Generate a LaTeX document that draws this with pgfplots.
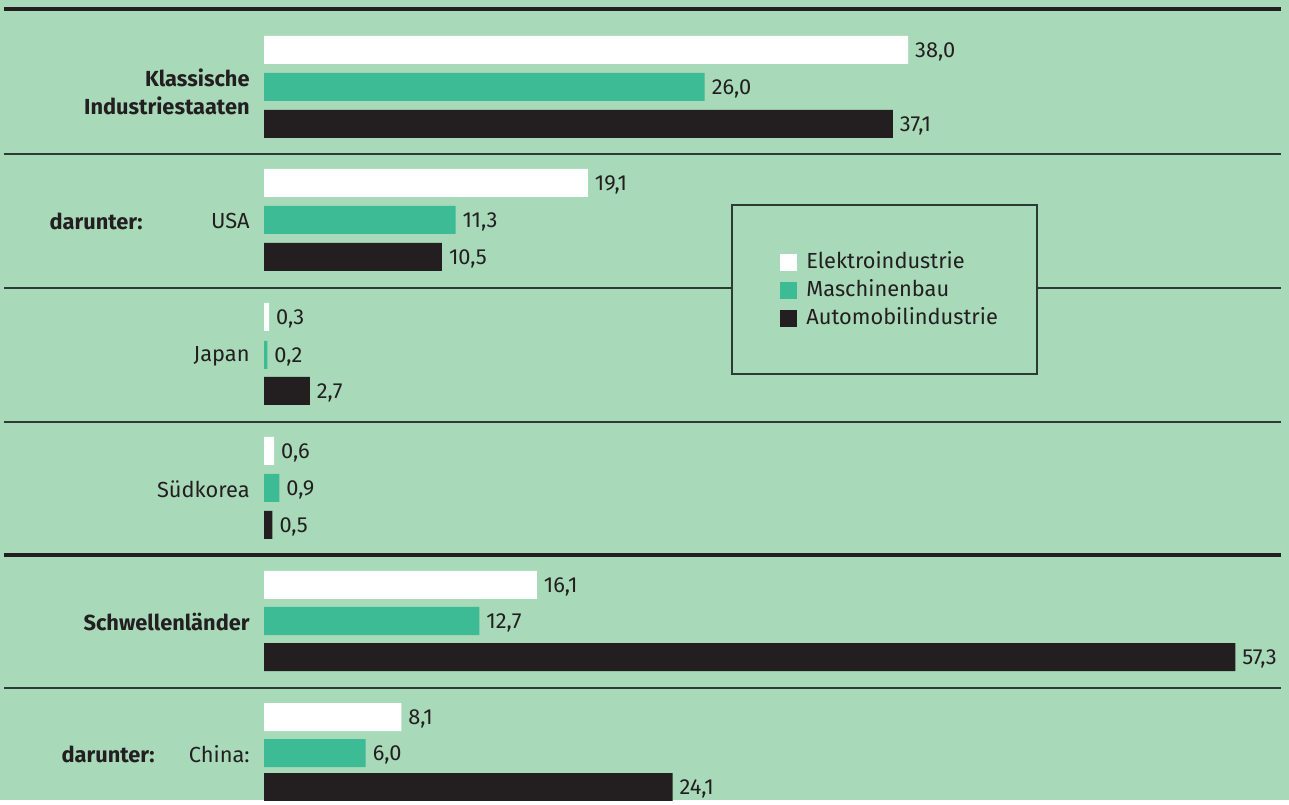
\documentclass[border=0pt]{standalone}
\usepackage{pgfplots}
\pgfplotsset{compat=1.18}
\usepackage{pgfplotstable}
\usepackage{fontspec}
\setmainfont{Fira Sans}
\definecolor{bg}{HTML}{A8D9B9}
\definecolor{grn}{HTML}{3DBB94}
\definecolor{blk}{HTML}{231F20}
\definecolor{line}{HTML}{2E3A33}

\pgfplotstableread{
val pos
38.0 50
19.1 183
0.3 317
0.6 451
16.1 585
8.1 717
}\elektro
\pgfplotstableread{
val pos
26.0 87
11.3 220
0.2 355
0.9 488
12.7 621
6.0 753
}\maschinen
\pgfplotstableread{
val pos
37.1 124
10.5 257
2.7 391
0.5 525
57.3 657
24.1 787
}\auto

\newcommand{\lf}{\fontsize{10.9}{13}\selectfont}
\begin{document}
\begin{tikzpicture}
\begin{axis}[
  scale only axis,
  width=644.5pt, height=400pt,
  xmin=-15.575, xmax=60.47,
  ymin=0, ymax=800, y dir=reverse,
  axis lines=none,
  axis background/.style={fill=bg},
  xbar, bar shift=0pt, bar width=28,
  nodes near coords={\pgfmathprintnumber[fixed,fixed zerofill,precision=1,use comma,assume math mode=true]{\pgfplotspointmeta}},
  point meta=x,
  nodes near coords style={font=\lf, text=blk, anchor=west, xshift=0pt, yshift=-1pt},
  legend style={at={(axis cs:30.44,252)}, anchor=north west, draw=none, fill=none, inner sep=0pt,
    font=\lf, text=blk, row sep=3.5pt, column sep=0pt,
    nodes={inner sep=0pt, text height=8pt, text depth=2.5pt}},
  legend cell align=left,
  legend image code/.code={\fill[#1] (0pt,-4.25pt) rectangle (8.5pt,4.25pt);},
  clip=true,
]
% separators
\draw[line width=2pt, blk] (axis cs:-15.34,9) -- (axis cs:60.0,9);
\draw[line width=0.7pt, line] (axis cs:-15.34,154) -- (axis cs:60.0,154);
\draw[line width=0.7pt, line] (axis cs:-15.34,288) -- (axis cs:60.0,288);
\draw[line width=0.7pt, line] (axis cs:-15.34,422) -- (axis cs:60.0,422);
\draw[line width=2pt, blk] (axis cs:-15.34,555) -- (axis cs:60.0,555);
\draw[line width=0.7pt, line] (axis cs:-15.34,688) -- (axis cs:60.0,688);
% legend box
\draw[line width=0.7pt, line, fill=bg] (axis cs:27.61,205) rectangle (axis cs:45.60,374);

\addplot[fill=white, draw=none] table[x=val, y=pos] {\elektro};
\addlegendentry{\hspace{4.5pt}Elektroindustrie}
\addplot[fill=grn, draw=none] table[x=val, y=pos] {\maschinen};
\addlegendentry{\hspace{4.5pt}Maschinenbau}
\addplot[fill=blk, draw=none] table[x=val, y=pos] {\auto};
\addlegendentry{\hspace{4.5pt}Automobilindustrie}

% category labels
\node[anchor=east, inner sep=0pt, align=right, text=blk, font=\fontsize{10.9}{14}\selectfont\bfseries] at (axis cs:-0.826,92) {Klassische\\Industriestaaten};
\node[anchor=east, inner sep=0pt, text=blk, font=\lf\bfseries] at (axis cs:-7.14,221) {darunter:};
\node[anchor=east, inner sep=0pt, text=blk, font=\lf] at (axis cs:-0.826,221) {USA};
\node[anchor=east, inner sep=0pt, text=blk, font=\lf] at (axis cs:-0.826,356) {Japan};
\node[anchor=east, inner sep=0pt, text=blk, font=\lf] at (axis cs:-0.826,489) {Südkorea};
\node[anchor=east, inner sep=0pt, text=blk, font=\lf\bfseries] at (axis cs:-0.826,622) {Schwellenländer};
\node[anchor=east, inner sep=0pt, text=blk, font=\lf\bfseries] at (axis cs:-6.43,754) {darunter:};
\node[anchor=east, inner sep=0pt, text=blk, font=\lf] at (axis cs:-0.826,754) {China:};
\end{axis}
\end{tikzpicture}
\end{document}
